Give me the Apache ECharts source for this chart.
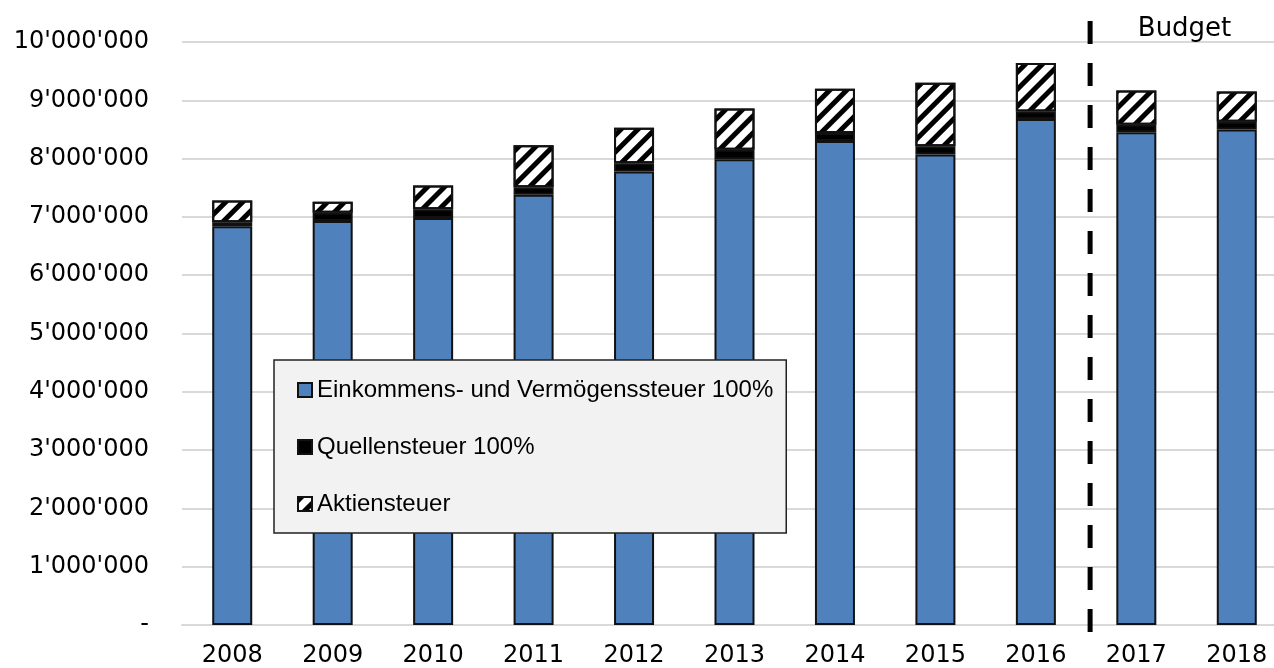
<!DOCTYPE html>
<html>
<head>
<meta charset="utf-8">
<script src="https://cdn.jsdelivr.net/npm/echarts@6/dist/echarts.min.js"></script>
<style>
    html, body { margin: 0; padding: 0; background: #fff; }
    .chart-steuer { width: 1274px; height: 668px; }
</style>
</head>
<body>
<div class="chart-steuer"></div>
<script>
// data
const yearList = ['2008', '2009', '2010', '2011', '2012', '2013', '2014', '2015', '2016', '2017', '2018']
const einkommenList = [6840000, 6930000, 6980000, 7380000, 7780000, 7990000, 8300000, 8070000, 8680000, 8450000, 8500000]
const quellenList = [70000, 140000, 150000, 130000, 140000, 160000, 140000, 140000, 130000, 130000, 130000]
const aktienList = [370000, 190000, 410000, 720000, 610000, 710000, 760000, 1090000, 830000, 590000, 520000]
const seriesNames = ['Einkommens- und Vermögenssteuer 100%', 'Quellensteuer 100%', 'Aktiensteuer']
const budgetLabel = 'Budget'
const budgetFrom = '2016'
const budgetTo = '2017'

// DOM
const chartSteuer = document.querySelector('.chart-steuer')

// 千分位 mit Apostroph
function formatNum(n) {
    if (n === 0) return '-'
    return String(n).replace(/\B(?=(\d{3})+(?!\d))/g, "'")
}

function paintChart(dom) {
    let myChart = echarts.init(dom)
    const axisFont = { fontFamily: 'DejaVu Sans', fontSize: 24, color: '#000' }
    const barBorder = { borderColor: '#111', borderWidth: 2 }

    let option = {
        animation: false,
        backgroundColor: '#fff',
        grid: {
            left: 182,
            right: -13,
            top: 42,
            bottom: 43,
            outerBoundsMode: 'none',
        },
        xAxis: {
            type: 'category',
            data: yearList,
            axisLine: { lineStyle: { color: '#d9d9d9', width: 2 } },
            axisTick: { show: false },
            axisLabel: Object.assign({ margin: 19 }, axisFont),
        },
        yAxis: {
            type: 'value',
            min: 0,
            max: 10000000,
            interval: 1000000,
            axisLine: { show: false },
            axisTick: { show: false },
            splitLine: { lineStyle: { color: '#d9d9d9', width: 2 } },
            axisLabel: Object.assign({ margin: 33, formatter: formatNum }, axisFont),
        },
        legend: {
            orient: 'vertical',
            left: 274,
            top: 360,
            padding: [18, 13, 17, 23],
            itemGap: 33,
            itemWidth: 14,
            itemHeight: 14,
            icon: 'rect',
            backgroundColor: '#f2f2f2',
            borderColor: '#222',
            borderWidth: 1.5,
            textStyle: { fontFamily: 'Liberation Sans', fontSize: 24, color: '#000' },
            data: seriesNames,
        },
        series: [
            {
                name: seriesNames[0],
                type: 'bar',
                stack: 'steuer',
                barWidth: 40,
                data: einkommenList,
                itemStyle: Object.assign({ color: '#4f81bd' }, barBorder),
            },
            {
                name: seriesNames[1],
                type: 'bar',
                stack: 'steuer',
                data: quellenList,
                itemStyle: Object.assign({ color: '#000' }, barBorder),
            },
            {
                name: seriesNames[2],
                type: 'bar',
                stack: 'steuer',
                data: aktienList,
                itemStyle: Object.assign({
                    color: '#fff',
                    decal: {
                        symbol: 'rect',
                        symbolSize: 1,
                        color: '#000',
                        dashArrayX: [1, 0],
                        dashArrayY: [5, 7],
                        rotation: -Math.PI / 4,
                    },
                }, barBorder),
            },
        ],
    }
    myChart.setOption(option)

    // Budget-Trennlinie zwischen 2016 und 2017
    let p1 = myChart.convertToPixel({ xAxisIndex: 0 }, budgetFrom)
    let p2 = myChart.convertToPixel({ xAxisIndex: 0 }, budgetTo)
    let lineX = p1 + (p2 - p1) * 0.54
    let yBottom = myChart.convertToPixel({ yAxisIndex: 0 }, 0)
    let yTop = myChart.convertToPixel({ yAxisIndex: 0 }, 10000000)
    let pTo = myChart.convertToPixel({ xAxisIndex: 0 }, '2018')
    myChart.setOption({
        graphic: [
            {
                type: 'line',
                shape: { x1: lineX, y1: yTop - 21, x2: lineX, y2: yBottom + 8 },
                style: { stroke: '#000', lineWidth: 5, lineDash: [23, 19] },
                z: 10,
            },
            {
                type: 'text',
                x: (p2 + pTo) / 2 - 2,
                y: yTop - 13,
                style: {
                    text: budgetLabel,
                    fontFamily: 'DejaVu Sans',
                    fontSize: 26,
                    fill: '#000',
                    align: 'center',
                    verticalAlign: 'middle',
                },
                z: 10,
            },
        ],
    })
}
paintChart(chartSteuer)
</script>
</body>
</html>
